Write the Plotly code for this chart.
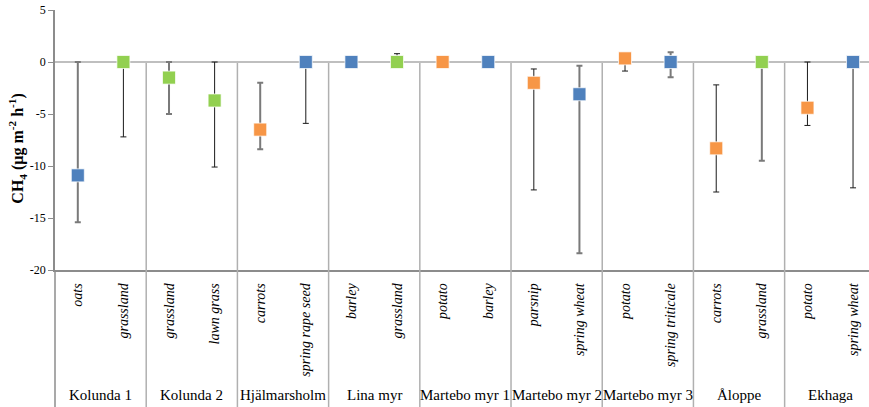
import plotly.graph_objects as go

# ---- data ----
sites = ["Kolunda 1", "Kolunda 2", "Hjälmarsholm", "Lina myr", "Martebo myr 1",
         "Martebo myr 2", "Martebo myr 3", "Åloppe", "Ekhaga"]
crops = ["oats", "grassland", "grassland", "lawn grass", "carrots", "spring rape seed",
         "barley", "grassland", "potato", "barley", "parsnip", "spring wheat",
         "potato", "spring triticale", "carrots", "grassland", "potato", "spring wheat"]
crop_type = ["cereal", "grass", "grass", "grass", "root", "cereal",
             "cereal", "grass", "root", "cereal", "root", "cereal",
             "root", "cereal", "root", "grass", "root", "cereal"]
ch4_mean = [-10.9, 0.0, -1.5, -3.7, -6.5, 0.0,
            0.0, 0.0, 0.0, 0.0, -2.0, -3.1,
            0.35, 0.0, -8.3, 0.0, -4.4, 0.0]
err_plus = [10.9, 0.0, 1.5, 3.7, 4.5, 0.0,
            0.0, 0.8, 0.0, 0.0, 1.33, 2.75,
            0.0, 0.93, 6.1, 0.0, 4.4, 0.0]
err_minus = [4.5, 7.2, 3.5, 6.4, 1.9, 5.9,
             0.0, 0.0, 0.0, 0.0, 10.3, 15.3,
             1.22, 1.47, 4.2, 9.5, 1.7, 12.1]
y_ticks = [5, 0, -5, -10, -15, -20]
y_ticklabels = ["5", "0", "-5", "-10", "-15", "-20"]

# ---- styles ----
type_colors = {"cereal": "#4F81BD", "grass": "#92D050", "root": "#F79646"}
bar_heavy = [True, False, True, False, True, False,
             False, False, False, False, False, True,
             False, True, False, True, False, False]

n = len(crops)
xmin, xmax = -0.5, 17.35
serif = "'Liberation Serif', 'Times New Roman', serif"

fig = go.Figure()
for i in range(n):
    heavy = bar_heavy[i]
    fig.add_trace(go.Scatter(
        x=[i], y=[ch4_mean[i]], mode="markers",
        marker=dict(symbol="square", size=13, color=type_colors[crop_type[i]],
                    line=dict(color="rgba(255,255,255,0.7)", width=1)),
        error_y=dict(type="data", symmetric=False,
                     array=[err_plus[i]], arrayminus=[err_minus[i]],
                     color="#7a7a7a" if heavy else "#1a1a1a",
                     thickness=2 if heavy else 1, width=3),
        showlegend=False, cliponaxis=False,
    ))

def xpaper(v):
    return (v - xmin) / (xmax - xmin)

shapes = []
ngroups = len(sites)
for g in range(1, ngroups + 1):
    xv = 2 * g - 0.5
    if xv > xmax:
        continue
    shapes.append(dict(type="line", xref="paper", yref="y", x0=xpaper(xv), x1=xpaper(xv),
                       y0=0, y1=-20, line=dict(color="#b0b0b0", width=1.5), layer="below"))
    shapes.append(dict(type="line", xref="paper", yref="paper", x0=xpaper(xv), x1=xpaper(xv),
                       y0=0, y1=-0.527, line=dict(color="#b0b0b0", width=1.5)))
shapes.append(dict(type="line", xref="paper", yref="paper", x0=0, x1=0,
                   y0=0, y1=-0.527, line=dict(color="#8c8c8c", width=1.5)))

annotations = []
for g, s in enumerate(sites):
    annotations.append(dict(x=xpaper(2 * g + 0.5), y=-0.48, xref="paper", yref="paper",
                            text=s, showarrow=False, xanchor="center", yanchor="middle",
                            font=dict(family=serif, size=15, color="#000")))
annotations.append(dict(x=-0.046, y=0.465, xref="paper", yref="paper", textangle=-90,
                        xanchor="center", yanchor="middle",
                        text="<b>CH<sub>4</sub> (µg m<sup>-2</sup> h<sup>-1</sup>)</b>",
                        showarrow=False, font=dict(family=serif, size=16, color="#000")))

fig.update_layout(
    width=869, height=407,
    margin=dict(l=55, r=0, t=10, b=137),
    paper_bgcolor="white", plot_bgcolor="white",
    font=dict(family=serif),
    shapes=shapes, annotations=annotations,
    xaxis=dict(range=[xmin, xmax], tickvals=list(range(n)), ticktext=crops,
               tickangle=-90, showgrid=False, zeroline=False,
               showline=True, linecolor="#8c8c8c", linewidth=1.5,
               ticks="", ticklabelstandoff=6,
               tickfont=dict(family=serif, size=14, style="italic", color="#000")),
    yaxis=dict(range=[-20, 5], tickvals=y_ticks, ticktext=y_ticklabels,
               showgrid=False, zeroline=True, zerolinecolor="#bfbfbf", zerolinewidth=2,
               showline=True, linecolor="#8c8c8c", linewidth=1.5,
               ticks="outside", ticklen=5, tickcolor="#8c8c8c",
               tickfont=dict(family=serif, size=12, color="#000")),
)

fig.write_html("out.html", config={"displayModeBar": False},
               post_script="document.body.style.margin='0';")
